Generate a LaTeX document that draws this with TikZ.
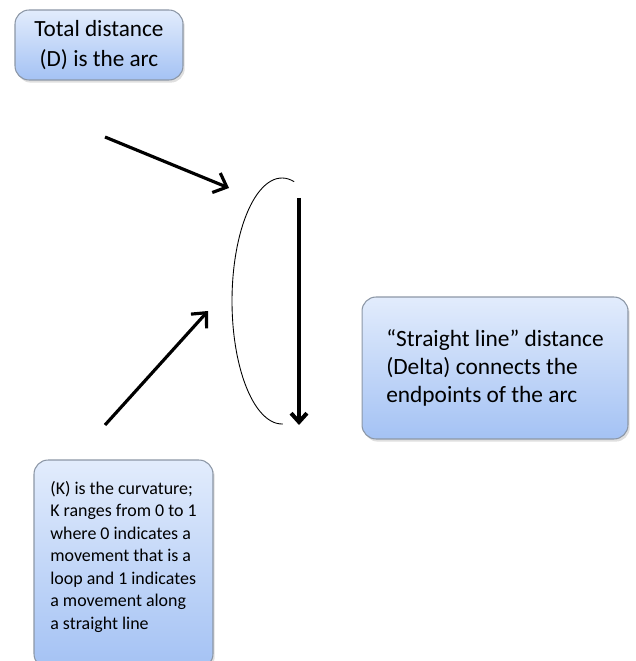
\documentclass[tikz,border=0pt]{standalone}
\usepackage{fontspec}
\setmainfont{Carlito}
\usetikzlibrary{arrows.meta, shadows}
\definecolor{c1}{HTML}{000000}
\definecolor{c2}{HTML}{8C97A6}
\definecolor{c3}{HTML}{E2ECFC}
\definecolor{c4}{HTML}{A4C2F4}

\begin{document}
\begin{tikzpicture}[
    x=0.02cm, y=-0.02cm,
    arr/.style={-{Straight Barb[length=6.5pt, width=12pt]}, line width=1.8pt, color=c1},
    cut/.style={-{Straight Barb[length=5pt, width=9pt]}, line width=2.3pt, color=c1},
    note/.style={
        rectangle, rounded corners=8pt, draw=c2, line width=0.6pt,
        top color=c3, bottom color=c4, align=left,
        drop shadow={opacity=0.25, shadow xshift=1pt, shadow yshift=-1.5pt},
    },
]
\useasboundingbox (0,0) rectangle (635,661);

% ================================================================ notes
\node[note, minimum width=3.36cm, minimum height=1.40cm, align=center,
      font=\fontsize{13.2}{17}\selectfont] (total) at (99,45)
    {Total distance\\(D) is the arc};

\node[note, minimum width=5.32cm, minimum height=2.84cm,
      font=\fontsize{13.3}{16}\selectfont] (delta) at (495,368)
    {“Straight line” distance\\(Delta) connects the\\endpoints of the arc};

% runs past the bottom edge, as in the source
\node[note, minimum width=3.58cm, minimum height=4.16cm,
      font=\fontsize{10.2}{12.8}\selectfont] (curv) at (123.5,564)
    {(K) is the curvature;\\K ranges from 0 to 1\\where 0 indicates a\\movement that is a\\loop and 1 indicates\\a movement along\\a straight line\\[-3pt]\mbox{}};

% ================================================================ the arc and its chord
\draw[c1, line width=0.5pt] plot[domain=76:271, samples=60, smooth]
    ({282+50*cos(\x)}, {301-123*sin(\x)});

\coordinate (top) at (299,198);
\coordinate (bot) at (299,425);
\draw[cut] (top) -- (bot);

% ================================================================ pointers
\coordinate (d1) at (105,137);
\coordinate (d2) at (229,188);
\draw[arr] (d1) -- (d2);

\coordinate (k1) at (105,425);
\coordinate (k2) at (208,311);
\draw[arr] (k1) -- (k2);

\end{tikzpicture}
\end{document}
